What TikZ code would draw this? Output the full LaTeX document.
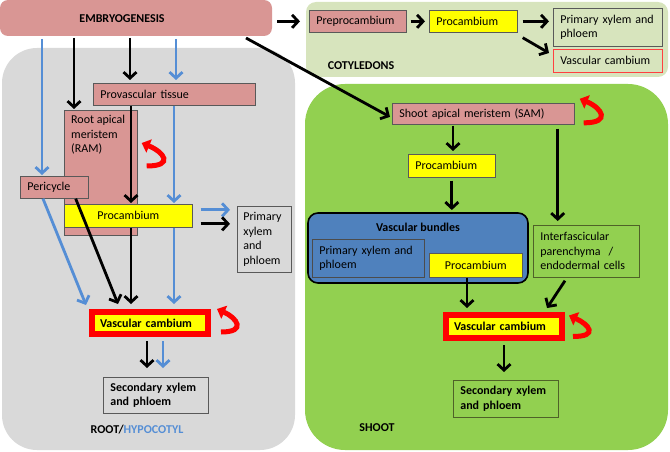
\documentclass[tikz,border=0pt]{standalone}
\usepackage{fontspec}
\setmainfont{Carlito}
\usetikzlibrary{arrows.meta, positioning}

\definecolor{pinkfill}{HTML}{D99694}
\definecolor{yellowfill}{HTML}{FFFF00}
\definecolor{rootgray}{HTML}{D9D9D9}
\definecolor{cotygreen}{HTML}{D7E4BD}
\definecolor{shootgreen}{HTML}{92D050}
\definecolor{bundleblue}{HTML}{4F81BD}
\definecolor{arrowblue}{HTML}{558ED5}
\definecolor{loopred}{HTML}{FF0000}
\definecolor{darkolive}{HTML}{4F6228}

\newcommand{\diagfont}{\fontsize{12}{14.5}\selectfont}

\begin{document}
\begin{tikzpicture}[
        x=1pt, y=-1pt,
        font=\diagfont,
        panel/.style={anchor=north west, inner sep=0pt, outer sep=0pt, rounded corners=#1},
        block/.style={draw=black!65, line width=0.7pt, anchor=north west, inner xsep=7pt, inner ysep=0pt, align=left},
        pinkblock/.style={block, fill=pinkfill},
        yellowblock/.style={block, fill=yellowfill},
        cambium/.style={draw=loopred, line width=6pt, fill=yellowfill, anchor=north west, inner xsep=8pt, inner ysep=0pt, align=left, font=\diagfont\bfseries},
        heading/.style={font=\diagfont\bfseries},
        line/.style={draw, -{Straight Barb[length=6pt, width=13pt]}, line width=2.8pt},
        blueline/.style={line, draw=arrowblue},
        redloop/.style={draw=loopred, line width=5pt, -{Triangle[length=8pt, width=14pt]}}
    ]
        \useasboundingbox (0,0) rectangle (670,452);

        % Panels
        \node [panel=35pt, fill=rootgray, minimum width=293pt, minimum height=402pt] (rootpanel) at (2,48) {};
        \node [panel=10pt, fill=cotygreen, minimum width=362pt, minimum height=75pt] (cotypanel) at (306,2) {};
        \node [panel=40pt, fill=shootgreen, minimum width=363pt, minimum height=366pt] (shootpanel) at (305,84) {};

        % Embryogenesis
        \node [panel=8pt, fill=pinkfill, minimum width=272pt, minimum height=36pt] (emb) at (0,0) {};
        \node [heading] (embtext) at (122,19) {EMBRYOGENESIS};

        % Cotyledons
        \node [pinkblock, text width=83pt, minimum height=22pt] (prepro) at (309,10) {Preprocambium};
        \node [yellowblock, text width=74pt, minimum height=22pt] (coproc) at (429,10) {Procambium};
        \node [block, text width=95pt, minimum height=38pt] (coprim) at (553,8) {Primary xylem and\\phloem};
        \node [block, draw=loopred!75, text width=95pt, minimum height=23pt] (covc) at (553,49) {Vascular cambium};
        \node [heading] (cotylabel) at (361,66) {COTYLEDONS};

        \path [line] ([xshift=5pt]emb.east |- prepro.west) -- ([xshift=-9pt]prepro.west);
        \path [line] ([xshift=4pt]prepro.east) -- ([xshift=-4pt]coproc.west);
        \path [line] ([xshift=5pt]coproc.east) -- ([xshift=-4pt]coproc.east -| coprim.west);
        \path [line] ([xshift=5pt,yshift=-5pt]coproc.south east) -- ([xshift=-4pt,yshift=-4pt]covc.north west);

        % Shoot
        \node [pinkblock, text width=168pt, minimum height=21pt] (sam) at (392,103) {Shoot apical meristem (SAM)};
        \node [yellowblock, text width=73pt, minimum height=23pt] (shproc) at (408,154) {Procambium};
        \node [panel=10pt, draw=black, line width=1.6pt, fill=bundleblue, minimum width=220pt, minimum height=70pt,
               label={[anchor=north, yshift=-7pt, heading]north:Vascular bundles}] (bundles) at (308,213) {};
        \node [block, draw=black!70, fill=bundleblue, text width=98pt, minimum height=38pt] (shprim) at (312,239) {Primary xylem and\\phloem};
        \node [yellowblock, text width=79pt, minimum height=24pt, align=center] (shproc2) at (429,253) {Procambium};
        \node [block, draw=darkolive, text width=92pt, minimum height=52pt] (inter) at (533,225) {Interfascicular\\parenchyma~~/\\endodermal cells};
        \node [cambium, text width=100pt, minimum height=23pt] (shvc) at (443,312) {Vascular cambium};
        \node [block, heading, draw=darkolive, text width=91pt, minimum height=37pt] (shsec) at (453,380) {Secondary xylem\\and phloem};
        \node [heading] (shootlabel) at (377,428) {SHOOT};

        \path [line] ([xshift=-26pt,yshift=-2pt]emb.south east) -- ([xshift=-2pt,yshift=-3pt]sam.west);
        \path [line] ([xshift=61pt,yshift=-1pt]sam.south west) -- ([xshift=61pt,yshift=3pt]sam.south west |- shproc.north);
        \path [line] ([yshift=-3pt]shproc.south) -- ([yshift=3pt]shproc.south |- bundles.north);
        \path [line] ([xshift=-17pt,yshift=-4pt]sam.south east) -- ([xshift=-17pt,yshift=4pt]sam.south east |- inter.north);
        \path [line] ([xshift=38pt]shproc2.south west) -- ([xshift=38pt,yshift=4pt]shproc2.south west |- shvc.north);
        \path [line] ([xshift=32pt,yshift=-3pt]inter.south west) -- ([xshift=-18pt,yshift=4pt]shvc.north east);
        \path [line] ([xshift=61pt,yshift=-4pt]shvc.south west) -- ([xshift=61pt,yshift=8pt]shvc.south west |- shsec.north);

        \path [redloop] ([xshift=9pt,yshift=-9pt]sam.east) .. controls +(28,0) and +(22,9) .. ([xshift=5pt,yshift=15pt]sam.east);
        \path [redloop] ([xshift=8pt,yshift=-10pt]shvc.east) .. controls +(26,0) and +(20,9) .. ([xshift=4pt,yshift=11pt]shvc.east);

        % Root / hypocotyl
        \node [pinkblock, text width=148pt, minimum height=22pt] (prov) at (93,83) {Provascular tissue};
        \node [pinkblock, minimum width=73pt, minimum height=125pt,
               label={[anchor=north west, align=left, inner sep=0pt, xshift=7pt, yshift=-5pt]north west:Root apical\\meristem\\(RAM)}] (ram) at (64,110) {};
        \node [pinkblock, text width=54pt, minimum height=22pt] (peri) at (20,176) {Pericycle};
        \node [yellowblock, text width=114pt, minimum height=23pt, align=center] (rtproc) at (64,204) {Procambium};
        \node [block, inner xsep=6pt, text width=42pt, minimum height=66pt] (rtprim) at (237,206) {Primary\\xylem\\and\\phloem};
        \node [cambium, text width=100pt, minimum height=22pt] (rtvc) at (89,309) {Vascular cambium};
        \node [block, heading, text width=91pt, minimum height=36pt] (rtsec) at (103,377) {Secondary xylem\\and phloem};
        \node [heading] (rootlabel) at (137,430) {ROOT/\textcolor{arrowblue}{HYPOCOTYL}};

        \path [blueline] ([xshift=22pt,yshift=-3pt]peri.north west |- emb.south) -- ([xshift=22pt,yshift=1pt]peri.north west);
        \path [line] ([xshift=10pt,yshift=-2pt]ram.north west |- emb.south) -- ([xshift=10pt,yshift=1pt]ram.north west);
        \path [line] ([xshift=37pt,yshift=-2pt]prov.north west |- emb.south) -- ([xshift=37pt,yshift=3pt]prov.north west);
        \path [blueline] ([xshift=83pt,yshift=-3pt]prov.north west |- emb.south) -- ([xshift=83pt,yshift=3pt]prov.north west);
        \path [line] ([xshift=67pt]rtproc.north west |- prov.south) -- ([xshift=67pt,yshift=1pt]rtproc.north west);
        \path [blueline] ([xshift=110pt]rtproc.north west |- prov.south) -- ([xshift=110pt,yshift=1pt]rtproc.north west);
        \path [blueline] ([xshift=8pt,yshift=6pt]rtproc.east) -- ([xshift=-7pt,yshift=6pt]rtproc.east -| rtprim.west);
        \path [line] ([xshift=8pt,yshift=-8pt]rtproc.east) -- ([xshift=-7pt,yshift=-8pt]rtproc.east -| rtprim.west);
        \path [line] ([xshift=-13pt]peri.south east) -- ([xshift=29pt,yshift=5pt]rtvc.north west);
        \path [blueline] ([xshift=23pt]peri.south west) -- ([xshift=-3pt,yshift=4pt]rtvc.north west);
        \path [line] ([xshift=67pt]rtproc.south west) -- ([xshift=67pt,yshift=5pt]rtproc.south west |- rtvc.north);
        \path [blueline] ([xshift=110pt]rtproc.south west) -- ([xshift=110pt,yshift=5pt]rtproc.south west |- rtvc.north);
        \path [line] ([xshift=58pt,yshift=-4pt]rtvc.south west) -- ([xshift=58pt,yshift=9pt]rtvc.south west |- rtsec.north);
        \path [blueline] ([xshift=74pt,yshift=-4pt]rtvc.south west) -- ([xshift=74pt,yshift=9pt]rtvc.south west |- rtsec.north);

        \path [redloop] ([xshift=9pt,yshift=-56pt]ram.north east) .. controls +(28,0) and +(22,9) .. ([xshift=4pt,yshift=-33pt]ram.north east);
        \path [redloop] ([xshift=10pt,yshift=-9pt]rtvc.east) .. controls +(26,0) and +(20,9) .. ([xshift=6pt,yshift=14pt]rtvc.east);

    \end{tikzpicture}
\end{document}
